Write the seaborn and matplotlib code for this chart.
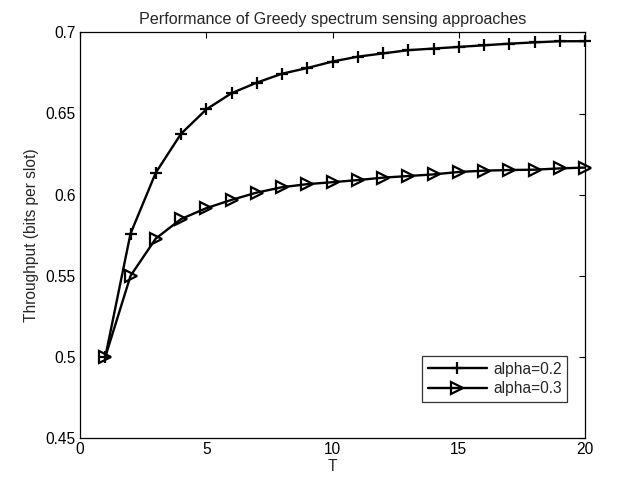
import matplotlib
matplotlib.use("Agg")
import matplotlib.pyplot as plt
import seaborn as sns
import pandas as pd

T = list(range(1, 21))
alpha_02 = [0.500, 0.576, 0.6135, 0.6375, 0.6525, 0.6625, 0.669, 0.6745, 0.678, 0.682,
            0.685, 0.687, 0.689, 0.690, 0.691, 0.692, 0.693, 0.6938, 0.6945, 0.6945]
alpha_03 = [0.500, 0.550, 0.573, 0.585, 0.5917, 0.5968, 0.6013, 0.6046, 0.6065, 0.6077,
            0.609, 0.6105, 0.6115, 0.6125, 0.614, 0.6148, 0.6152, 0.6154, 0.6162, 0.6167]
labels = ["alpha=0.2", "alpha=0.3"]
title = "Performance of Greedy spectrum sensing approaches"
xlabel = "T"
ylabel = "Throughput (bits per slot)"
xticks = [0, 5, 10, 15, 20]
yticks = [0.45, 0.5, 0.55, 0.6, 0.65, 0.7]
ytick_labels = ["0.45", "0.5", "0.55", "0.6", "0.65", "0.7"]

sns.set_theme(style="white")
plt.rcParams["font.family"] = ["Liberation Sans", "DejaVu Sans"]
FS = 11.2
plt.rcParams["font.size"] = FS

df = pd.DataFrame({
    "T": T * 2,
    "val": alpha_02 + alpha_03,
    "series": [labels[0]] * len(T) + [labels[1]] * len(T),
})

fig = plt.figure(figsize=(6.19, 4.78), dpi=100)
ax = fig.add_axes([80 / 619, 1 - 438.3 / 478, (585 - 80) / 619, (438.3 - 32.3) / 478])

markers = {labels[0]: "+", labels[1]: ">"}
for lab in labels:
    sub = df[df["series"] == lab]
    sns.lineplot(data=sub, x="T", y="val", ax=ax, color="black", linewidth=1.7,
                 marker=markers[lab], markersize=9 if lab == labels[0] else 9,
                 markeredgewidth=1.6, markerfacecolor="none", markeredgecolor="black",
                 label=lab, clip_on=False)

ax.set_xlim(0, 20)
ax.set_ylim(0.45, 0.7)
ax.set_xticks(xticks)
ax.set_xticklabels([str(x) for x in xticks])
ax.set_yticks(yticks)
ax.set_yticklabels(ytick_labels)
ax.tick_params(direction="in", length=4, width=0.8, top=True, right=True,
               labelsize=FS, colors="black", pad=3)
for s in ax.spines.values():
    s.set_visible(True)
    s.set_color("black")
    s.set_linewidth(0.9)
ax.set_title(title, fontsize=11.6, pad=6)
ax.set_xlabel(xlabel, fontsize=FS, labelpad=1)
ax.set_ylabel(ylabel, fontsize=FS, labelpad=5)

leg = ax.legend(loc="lower right", bbox_to_anchor=(0.965, 0.09), frameon=True,
                fancybox=False, edgecolor="black", fontsize=FS, handlelength=3.8,
                handletextpad=0.4, borderpad=0.35, labelspacing=0.3, borderaxespad=0)
leg.get_frame().set_linewidth(0.9)

fig.savefig("out.png", dpi=100, facecolor="white")
